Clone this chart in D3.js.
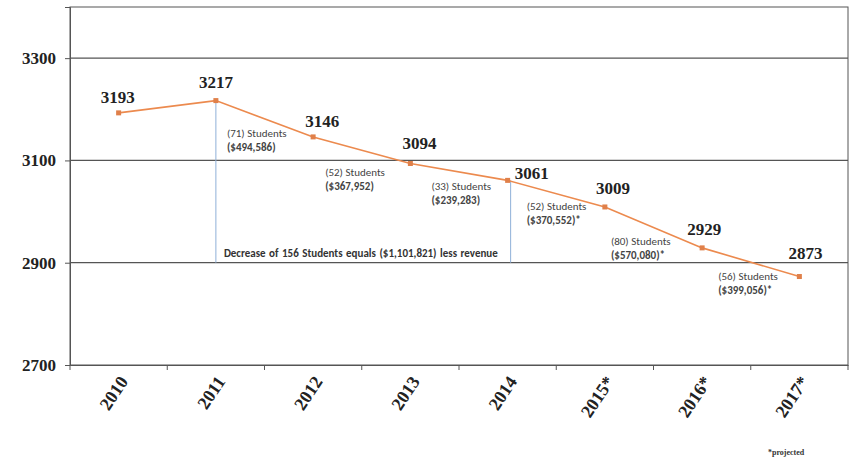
<!DOCTYPE html>
<html>
<head>
<meta charset="utf-8">
<script src="https://cdn.jsdelivr.net/npm/d3@7"></script>
<style>
  body { margin: 0; background: #fff; }
  svg { display: block; }
</style>
</head>
<body>
<svg width="850" height="462"></svg>
<script>
// enrollment by year
const years = ['2010', '2011', '2012', '2013', '2014', '2015*', '2016*', '2017*'];
const students = [3193, 3217, 3146, 3094, 3061, 3009, 2929, 2873];
const yTicks = [2700, 2900, 3100, 3300];

// year-over-year loss notes (shown after the year they belong to)
const lossStudents = ['(71) Students', '(52) Students', '(33) Students', '(52) Students', '(80) Students', '(56) Students'];
const lossDollars = ['($494,586)', '($367,952)', '($239,283)', '($370,552)*', '($570,080)*', '($399,056)*'];

const svg = d3.select('svg');
const plotL = 70, plotR = 848, plotT = 7, plotB = 365;

const x = d3.scaleBand().domain(years).range([plotL, plotR]);
const y = d3.scaleLinear().domain([2700, 3400]).range([plotB, plotT]);
const cx = d => x(d) + x.bandwidth() / 2;

// frame + grid
svg.append('rect')
  .attr('x', plotL).attr('y', plotT)
  .attr('width', plotR - plotL).attr('height', plotB - plotT)
  .attr('fill', 'none').attr('stroke', '#555').attr('stroke-width', 1);

svg.selectAll('.grid')
  .data(yTicks.slice(1))
  .enter()
  .append('line')
  .attr('x1', plotL).attr('x2', plotR)
  .attr('y1', d => y(d)).attr('y2', d => y(d))
  .attr('stroke', '#555').attr('stroke-width', 1.2);

// y axis
const yAxis = svg.append('g')
  .attr('transform', `translate(${plotL},0)`)
  .call(d3.axisLeft(y).tickValues(yTicks).tickSize(5).tickFormat(d3.format('d')));
yAxis.select('.domain').attr('stroke', '#555');
yAxis.selectAll('.tick line').attr('stroke', '#555');
yAxis.selectAll('text')
  .attr('font-family', 'Liberation Serif, Times New Roman, serif')
  .attr('font-weight', 'bold').attr('font-size', 17).attr('fill', '#222')
  .attr('x', -14);

// x axis
const xAxis = svg.append('g')
  .attr('transform', `translate(0,${plotB})`)
  .call(d3.axisBottom(x).tickSize(0));
xAxis.select('.domain').attr('stroke', '#555');
xAxis.selectAll('.tick text')
  .attr('font-family', 'Liberation Serif, Times New Roman, serif')
  .attr('font-weight', 'bold').attr('font-size', 18).attr('fill', '#222')
  .attr('text-anchor', 'end')
  .attr('transform', 'translate(5,13) rotate(-56)')
  .attr('dy', '0.35em').attr('y', 0).attr('x', 0);

// small ticks between categories
svg.selectAll('.xtick')
  .data(years.concat(['end']))
  .enter()
  .append('line')
  .attr('x1', (d, i) => plotL + i * x.step())
  .attr('x2', (d, i) => plotL + i * x.step())
  .attr('y1', plotB).attr('y2', plotB + 5)
  .attr('stroke', '#555');

// blue bracket lines (2011 and 2014)
[1, 4].forEach(i => {
  const bx = cx(years[i]) + (i === 4 ? 3 : 0);
  svg.append('line')
    .attr('x1', bx).attr('x2', bx)
    .attr('y1', y(students[i])).attr('y2', y(2900))
    .attr('stroke', '#8fb0d8').attr('stroke-width', 1);
});

// line + markers
const line = d3.line()
  .x((d, i) => cx(years[i]))
  .y(d => y(d));

svg.append('path')
  .datum(students)
  .attr('d', line)
  .attr('fill', 'none')
  .attr('stroke', '#ec8a4e').attr('stroke-width', 1.6);

svg.selectAll('.pt')
  .data(students)
  .enter()
  .append('rect')
  .attr('x', (d, i) => cx(years[i]) - 2.5)
  .attr('y', d => y(d) - 2.5)
  .attr('width', 5).attr('height', 5)
  .attr('fill', '#e0804a');

// value labels
const labelShift = [[-1, -10], [0, -13], [9, -10], [9, -14], [24, -1], [8, -13], [2, -13], [6, -18]];
svg.selectAll('.val')
  .data(students)
  .enter()
  .append('text')
  .attr('x', (d, i) => cx(years[i]) + labelShift[i][0])
  .attr('y', (d, i) => y(d) + labelShift[i][1])
  .attr('text-anchor', 'middle')
  .attr('font-family', 'Liberation Serif, Times New Roman, serif')
  .attr('font-weight', 'bold').attr('font-size', 17).attr('fill', '#222')
  .text(d => d);

// loss notes, placed from the point of the year the loss ends in
const noteShift = [[11, 36], [12, 39], [21, 27], [19, 30], [6, 38], [16, 32]];
const notes = svg.selectAll('.note')
  .data(lossStudents)
  .enter()
  .append('text')
  .attr('font-family', 'Carlito, Liberation Sans Narrow, Open Sans, sans-serif')
  .attr('font-size', 11).attr('fill', '#444')
  .attr('x', (d, i) => cx(years[i + 1]) + noteShift[i][0])
  .attr('y', (d, i) => y(students[i + 1]) + noteShift[i][1]);
notes.append('tspan').text(d => d);
notes.append('tspan')
  .attr('x', (d, i) => cx(years[i + 1]) + noteShift[i][0])
  .attr('dy', 14)
  .attr('font-weight', 'bold')
  .text((d, i) => lossDollars[i]);

svg.append('text')
  .attr('x', cx(years[1]) + 8).attr('y', y(2900) - 6)
  .attr('font-family', 'Carlito, Liberation Sans Narrow, Open Sans, sans-serif')
  .attr('font-size', 11).attr('font-weight', 'bold').attr('fill', '#333')
  .attr('word-spacing', 1)
  .text('Decrease of 156 Students  equals  ($1,101,821)  less revenue');

svg.append('text')
  .attr('x', 768).attr('y', 455)
  .attr('font-family', 'Liberation Serif, serif')
  .attr('font-size', 8).attr('font-weight', 'bold').attr('fill', '#333')
  .text('*projected');
</script>
</body>
</html>
